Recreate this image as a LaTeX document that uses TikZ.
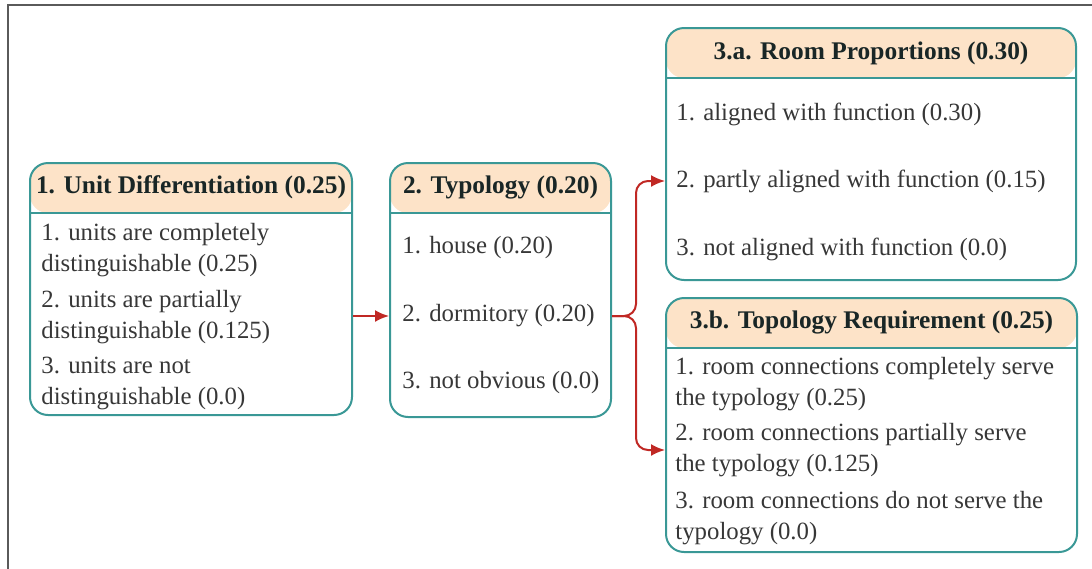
\documentclass[tikz,border=0pt]{standalone}
\usepackage{fontspec}
\setmainfont{Liberation Serif}
\usetikzlibrary{arrows.meta}

\definecolor{headfill}{RGB}{253,227,200}
\definecolor{boxline}{RGB}{58,152,150}
\definecolor{flowred}{RGB}{192,40,36}
\definecolor{itemgray}{RGB}{55,55,55}
\definecolor{headink}{RGB}{25,38,38}
\definecolor{framegray}{RGB}{90,90,90}

\tikzset{
	critbox/.style={rectangle,draw=boxline,line width=1pt,rounded corners=9pt,inner sep=0pt,
		path picture={
			\fill[headfill] (path picture bounding box.north west) rectangle ([yshift=-25pt]path picture bounding box.north east);
			\draw[boxline,line width=1pt] ([yshift=-25pt]path picture bounding box.north west) -- ([yshift=-25pt]path picture bounding box.north east);
		}},
	crithead/.style={inner sep=0pt,text=headink,font=\fontsize{12.7}{15.5}\selectfont\bfseries},
	critem/.style={anchor=west,inner sep=0pt,align=left,text=itemgray,font=\fontsize{12.4}{15.5}\selectfont},
	flow/.style={draw=flowred,line width=1pt,-{Latex[length=7pt,width=6pt]}}
}

\begin{document}
\begin{tikzpicture}[x=0.5pt,y=-0.5pt]
		\useasboundingbox (0,0) rectangle (1092,568);
		\clip (0,0) rectangle (1092,568);
		\draw[framegray,line width=1pt] (8,580) -- (8,5) -- (1100,5);

		% criteria boxes
		\path (191,289) node(unitdiff) [critbox,minimum width=161pt,minimum height=126pt] {};
		\path (500.5,290) node(typology) [critbox,minimum width=110.5pt,minimum height=127pt] {};
		\path (871,154) node(roomprop) [critbox,minimum width=205pt,minimum height=126pt] {};
		\path (871.5,425) node(toporeq) [critbox,minimum width=205.5pt,minimum height=127pt] {};

		\path (unitdiff.north) +(0,25) node(unitdiff_head) [crithead] {1. Unit Differentiation (0.25)};
		\path (typology.north) +(0,25) node(typology_head) [crithead] {2. Typology (0.20)};
		\path (roomprop.north) +(0,26) node(roomprop_head) [crithead] {3.a. Room Proportions (0.30)};
		\path (toporeq.north) +(0,25) node(toporeq_head) [crithead] {3.b. Topology Requirement (0.25)};

		\path (41,250) node(unitdiff_1) [critem] {1. units are completely\\distinguishable (0.25)};
		\path (41,317) node(unitdiff_2) [critem] {2. units are partially\\distinguishable (0.125)};
		\path (41,383) node(unitdiff_3) [critem] {3. units are not\\distinguishable (0.0)};

		\path (402,248) node(typology_1) [critem] {1. house (0.20)};
		\path (402,316) node(typology_2) [critem] {2. dormitory (0.20)};
		\path (402,383) node(typology_3) [critem] {3. not obvious (0.0)};

		\path (676,114) node(roomprop_1) [critem] {1. aligned with function (0.30)};
		\path (676,181) node(roomprop_2) [critem] {2. partly aligned with function (0.15)};
		\path (676,249) node(roomprop_3) [critem] {3. not aligned with function (0.0)};

		\path (675,384) node(toporeq_1) [critem] {1. room connections completely serve\\the typology (0.25)};
		\path (675,450) node(toporeq_2) [critem] {2. room connections partially serve\\the typology (0.125)};
		\path (675,518) node(toporeq_3) [critem] {3. room connections do not serve the\\typology (0.0)};

		% links
		\path (636,316) coordinate (fork);
		\draw[flow] (unitdiff.east |- typology_2) -- (typology.west |- typology_2);
		\draw[flow,rounded corners=6pt] (typology.east |- typology_2) -- (fork) |- (roomprop.west |- roomprop_2);
		\draw[flow,rounded corners=6pt] (typology.east |- typology_2) -- (fork) |- (toporeq.west |- toporeq_2);
\end{tikzpicture}
\end{document}
